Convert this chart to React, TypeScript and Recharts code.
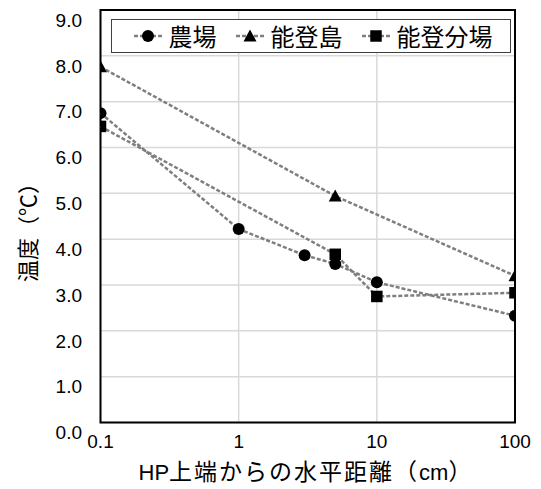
import React from 'react';
import { LineChart, Line, XAxis, YAxis, CartesianGrid, Legend, ReferenceArea, Label } from 'recharts';

const farmX = [0.1, 1, 3, 5, 10, 100];
const farmY = [6.75, 4.22, 3.65, 3.46, 3.06, 2.33];
const islandX = [0.1, 5, 100];
const islandY = [7.76, 4.94, 3.2];
const branchX = [0.1, 5, 10, 100];
const branchY = [6.46, 3.67, 2.75, 2.83];
const seriesNames = ['農場', '能登島', '能登分場'];
const xTicks = [0.1, 1, 10, 100];
const yTicks = [0, 1, 2, 3, 4, 5, 6, 7, 8, 9];
const xTitleParts = ['HP', '上端からの水平距離（', 'cm', '）'];
const yTitle = '温度（℃）';

const farmData = farmX.map((x, i) => ({ x, y: farmY[i] }));
const islandData = islandX.map((x, i) => ({ x, y: islandY[i] }));
const branchData = branchX.map((x, i) => ({ x, y: branchY[i] }));

const FONT = '"Liberation Sans", Arial, "Noto Sans CJK JP", sans-serif';
const CJK = '"Noto Sans CJK JP", sans-serif';
const LINE_COLOR = '#7f7f7f';
const DASH = '4 2';
const LW = 2.5;

type Shape = 'circle' | 'triangle' | 'square';

const Marker = ({ cx, cy, shape }: { cx: number; cy: number; shape: Shape }) => {
  if (shape === 'circle') return <circle cx={cx} cy={cy} r={6} fill="#000" />;
  if (shape === 'triangle')
    return <polygon points={`${cx},${cy - 6.5} ${cx - 6.5},${cy + 5.5} ${cx + 6.5},${cy + 5.5}`} fill="#000" />;
  return <rect x={cx - 5.75} y={cy - 5.75} width={11.5} height={11.5} fill="#000" />;
};

const makeDot = (shape: Shape) => (p: any) => (
  <Marker key={`${shape}-${p.index}`} cx={p.cx} cy={p.cy} shape={shape} />
);

const shapes: Shape[] = ['circle', 'triangle', 'square'];

const renderLegend = () => (
  <div
    style={{
      boxSizing: 'border-box',
      width: 400,
      height: 34,
      border: '1px solid #404040',
      background: '#fff',
      display: 'flex',
      flexWrap: 'nowrap',
      alignItems: 'center',
      paddingLeft: 22,
      fontFamily: CJK,
      fontSize: 24,
      color: '#000',
      whiteSpace: 'nowrap',
      overflow: 'hidden',
    }}
  >
    {seriesNames.map((name, i) => (
      <div key={name} style={{ display: 'flex', alignItems: 'center', marginRight: 19, flexShrink: 0 }}>
        <svg width={28} height={14} style={{ display: 'block', flexShrink: 0 }}>
          <line x1={0} y1={7} x2={28} y2={7} stroke={LINE_COLOR} strokeWidth={LW} strokeDasharray={DASH} />
          <Marker cx={14} cy={7} shape={shapes[i]} />
        </svg>
        <span style={{ marginLeft: 7, lineHeight: 1, whiteSpace: 'nowrap' }}>{name}</span>
      </div>
    ))}
  </div>
);

const YTick = (props: any) => {
  const { y, payload } = props;
  return (
    <text x={82} y={y + 10} dy="0.355em" textAnchor="end" fontSize={19} fontFamily={FONT} fill="#000">
      {Number(payload.value).toFixed(1)}
    </text>
  );
};

const XTick = (props: any) => {
  const { x, payload } = props;
  return (
    <text x={x} y={441} dy="0.355em" textAnchor="middle" fontSize={19} fontFamily={FONT} fill="#000">
      {String(payload.value)}
    </text>
  );
};

export default function App() {
  return (
    <div style={{ position: 'absolute', left: 0, top: 0, background: '#fff' }}>
      <style>{`body{margin:0;}`}</style>
      <LineChart width={541} height={489} margin={{ top: 10, right: 26, bottom: 36.5, left: 0 }}>
        <CartesianGrid stroke="#d9d9d9" strokeWidth={1.5} />
        <XAxis
          dataKey="x"
          type="number"
          scale="log"
          domain={[0.1, 100]}
          ticks={xTicks}
          allowDataOverflow
          height={30}
          axisLine={false}
          tickLine={false}
          tick={<XTick />}
        >
          <Label
            content={() => (
              <text x={305} y={480} textAnchor="middle" fill="#000">
                <tspan fontSize={22} fontFamily={FONT}>{xTitleParts[0]}</tspan>
                <tspan fontSize={23} fontFamily={CJK} letterSpacing={2}>{xTitleParts[1]}</tspan>
                <tspan fontSize={22} fontFamily={FONT}>{xTitleParts[2]}</tspan>
                <tspan fontSize={23} fontFamily={CJK}>{xTitleParts[3]}</tspan>
              </text>
            )}
          />
        </XAxis>
        <YAxis
          type="number"
          domain={[0, 9]}
          ticks={yTicks}
          width={100.5}
          axisLine={false}
          tickLine={false}
          tick={<YTick />}
        >
          <Label
            content={() => (
              <text
                x={26}
                y={227}
                transform="rotate(-90, 26, 227)"
                textAnchor="middle"
                dominantBaseline="central"
                fontSize={22}
                fontFamily={CJK}
                fill="#000"
              >
                {yTitle}
              </text>
            )}
          />
        </YAxis>
        <ReferenceArea x1={0.1} x2={100} y1={0} y2={9} fill="none" stroke="#000" strokeWidth={2} ifOverflow="visible" />
        <Legend
          layout="horizontal"
          verticalAlign="middle"
          align="center"
          content={renderLegend}
          wrapperStyle={{ left: 110.5, top: 18.5, width: 400, height: 34 }}
        />
        <Line
          data={farmData}
          dataKey="y"
          name={seriesNames[0]}
          stroke={LINE_COLOR}
          strokeWidth={LW}
          strokeDasharray={DASH}
          dot={makeDot('circle')}
          activeDot={false}
          isAnimationActive={false}
        />
        <Line
          data={islandData}
          dataKey="y"
          name={seriesNames[1]}
          stroke={LINE_COLOR}
          strokeWidth={LW}
          strokeDasharray={DASH}
          dot={makeDot('triangle')}
          activeDot={false}
          isAnimationActive={false}
        />
        <Line
          data={branchData}
          dataKey="y"
          name={seriesNames[2]}
          stroke={LINE_COLOR}
          strokeWidth={LW}
          strokeDasharray={DASH}
          dot={makeDot('square')}
          activeDot={false}
          isAnimationActive={false}
        />
      </LineChart>
    </div>
  );
}
